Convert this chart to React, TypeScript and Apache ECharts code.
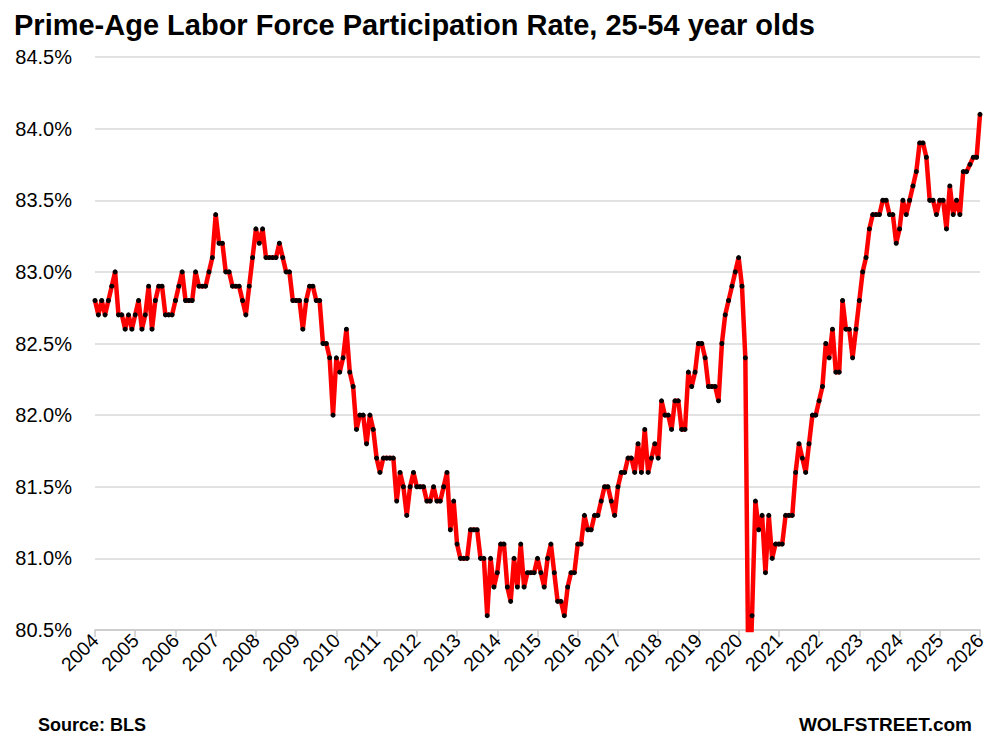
import React, { useEffect, useRef } from "react";
import * as echarts from "echarts";

const startYear = 2004;
const yearTicks = ["2004","2005","2006","2007","2008","2009","2010","2011","2012","2013","2014","2015","2016","2017","2018","2019","2020","2021","2022","2023","2024","2025","2026"];

const y2004 = [82.8, 82.7, 82.8, 82.7, 82.8, 82.9, 83.0, 82.7, 82.7, 82.6, 82.7, 82.6];
const y2005 = [82.7, 82.8, 82.6, 82.7, 82.9, 82.6, 82.8, 82.9, 82.9, 82.7, 82.7, 82.7];
const y2006 = [82.8, 82.9, 83.0, 82.8, 82.8, 82.8, 83.0, 82.9, 82.9, 82.9, 83.0, 83.1];
const y2007 = [83.4, 83.2, 83.2, 83.0, 83.0, 82.9, 82.9, 82.9, 82.8, 82.7, 82.9, 83.1];
const y2008 = [83.3, 83.2, 83.3, 83.1, 83.1, 83.1, 83.1, 83.2, 83.1, 83.0, 83.0, 82.8];
const y2009 = [82.8, 82.8, 82.6, 82.8, 82.9, 82.9, 82.8, 82.8, 82.5, 82.5, 82.4, 82.0];
const y2010 = [82.4, 82.3, 82.4, 82.6, 82.3, 82.2, 81.9, 82.0, 82.0, 81.8, 82.0, 81.9];
const y2011 = [81.7, 81.6, 81.7, 81.7, 81.7, 81.7, 81.4, 81.6, 81.5, 81.3, 81.5, 81.6];
const y2012 = [81.5, 81.5, 81.5, 81.4, 81.4, 81.5, 81.4, 81.4, 81.5, 81.6, 81.2, 81.4];
const y2013 = [81.1, 81.0, 81.0, 81.0, 81.2, 81.2, 81.2, 81.0, 81.0, 80.6, 81.0, 80.8];
const y2014 = [80.9, 81.1, 81.1, 80.8, 80.7, 81.0, 80.8, 81.1, 80.8, 80.9, 80.9, 80.9];
const y2015 = [81.0, 80.9, 80.8, 81.0, 81.1, 80.9, 80.7, 80.7, 80.6, 80.8, 80.9, 80.9];
const y2016 = [81.1, 81.1, 81.3, 81.2, 81.2, 81.3, 81.3, 81.4, 81.5, 81.5, 81.4, 81.3];
const y2017 = [81.5, 81.6, 81.6, 81.7, 81.7, 81.6, 81.8, 81.6, 81.9, 81.6, 81.7, 81.8];
const y2018 = [81.7, 82.1, 82.0, 82.0, 81.9, 82.1, 82.1, 81.9, 81.9, 82.3, 82.2, 82.3];
const y2019 = [82.5, 82.5, 82.4, 82.2, 82.2, 82.2, 82.1, 82.5, 82.7, 82.8, 82.9, 83.0];
const y2020 = [83.1, 82.9, 82.4, 79.9, 80.6, 81.4, 81.2, 81.3, 80.9, 81.3, 81.0, 81.1];
const y2021 = [81.1, 81.1, 81.3, 81.3, 81.3, 81.6, 81.8, 81.7, 81.6, 81.8, 82.0, 82.0];
const y2022 = [82.1, 82.2, 82.5, 82.4, 82.6, 82.3, 82.3, 82.8, 82.6, 82.6, 82.4, 82.6];
const y2023 = [82.8, 83.0, 83.1, 83.3, 83.4, 83.4, 83.4, 83.5, 83.5, 83.4, 83.4, 83.2];
const y2024 = [83.3, 83.5, 83.4, 83.5, 83.6, 83.7, 83.9, 83.9, 83.8, 83.5, 83.5, 83.4];
const y2025 = [83.5, 83.5, 83.3, 83.6, 83.4, 83.5, 83.4, 83.7, 83.7, 83.75, 83.8, 83.8];
const y2026 = [84.1];

const yTicks = [80.5, 81.0, 81.5, 82.0, 82.5, 83.0, 83.5, 84.0, 84.5];

const values = [
  ...y2004, ...y2005, ...y2006, ...y2007, ...y2008, ...y2009, ...y2010, ...y2011,
  ...y2012, ...y2013, ...y2014, ...y2015, ...y2016, ...y2017, ...y2018, ...y2019,
  ...y2020, ...y2021, ...y2022, ...y2023, ...y2024, ...y2025, ...y2026,
];

const FONT = "'Liberation Sans', Arial, sans-serif";

export default function App() {
  const ref = useRef<HTMLDivElement>(null);
  useEffect(() => {
    document.body.style.margin = "0";
    if (!ref.current) return;
    const chart = echarts.init(ref.current, null, { renderer: "svg" });
    const data = values.map((v, i) => [i, v]);
    chart.setOption({
      animation: false,
      backgroundColor: "#ffffff",
      textStyle: { fontFamily: FONT },
      title: {
        text: "Prime-Age Labor Force Participation Rate, 25-54 year olds",
        left: 9,
        top: 5,
        textStyle: { fontFamily: FONT, fontWeight: "bold", fontSize: 29, color: "#000" },
      },
      graphic: [
        {
          type: "text",
          left: 38,
          top: 716,
          style: { text: "Source: BLS", font: `bold 18px ${FONT}`, fill: "#000" },
        },
        {
          type: "text",
          right: 22,
          top: 715,
          style: { text: "WOLFSTREET.com", font: `bold 19px ${FONT}`, fill: "#000" },
        },
      ],
      grid: { left: 95, right: 14, top: 57, bottom: 114, containLabel: false },
      xAxis: {
        type: "value",
        min: 0,
        max: values.length - 1,
        interval: 12,
        axisLine: { show: true, lineStyle: { color: "#c8c8c8", width: 1.5 } },
        axisTick: { show: true, length: 7, lineStyle: { color: "#c8c8c8", width: 1.5 } },
        splitLine: { show: false },
        axisLabel: {
          rotate: 45,
          fontSize: 19.5,
          color: "#000",
          fontFamily: FONT,
          margin: 7,
          formatter: (v: number) => yearTicks[Math.round(v / 12)] ?? String(startYear + v / 12),
        },
      },
      yAxis: {
        type: "value",
        min: 80.5,
        max: 84.5,
        interval: 0.5,
        axisLine: { show: false },
        axisTick: { show: false },
        splitLine: { show: true, lineStyle: { color: "#d9d9d9", width: 1.5 } },
        axisLabel: {
          fontSize: 20,
          color: "#000",
          fontFamily: FONT,
          margin: 23,
          formatter: (v: number) => {
            const t = yTicks.find((x) => Math.abs(x - v) < 1e-6);
            return (t ?? v).toFixed(1) + "%";
          },
        },
      },
      series: [
        {
          type: "line",
          data,
          clip: true,
          showSymbol: true,
          symbol: "circle",
          symbolSize: 5,
          itemStyle: { color: "#000000" },
          lineStyle: { color: "#ff0000", width: 4.5 },
          z: 2,
        },
      ],
    });
    return () => chart.dispose();
  }, []);
  return <div ref={ref} style={{ width: 994, height: 744 }} />;
}
